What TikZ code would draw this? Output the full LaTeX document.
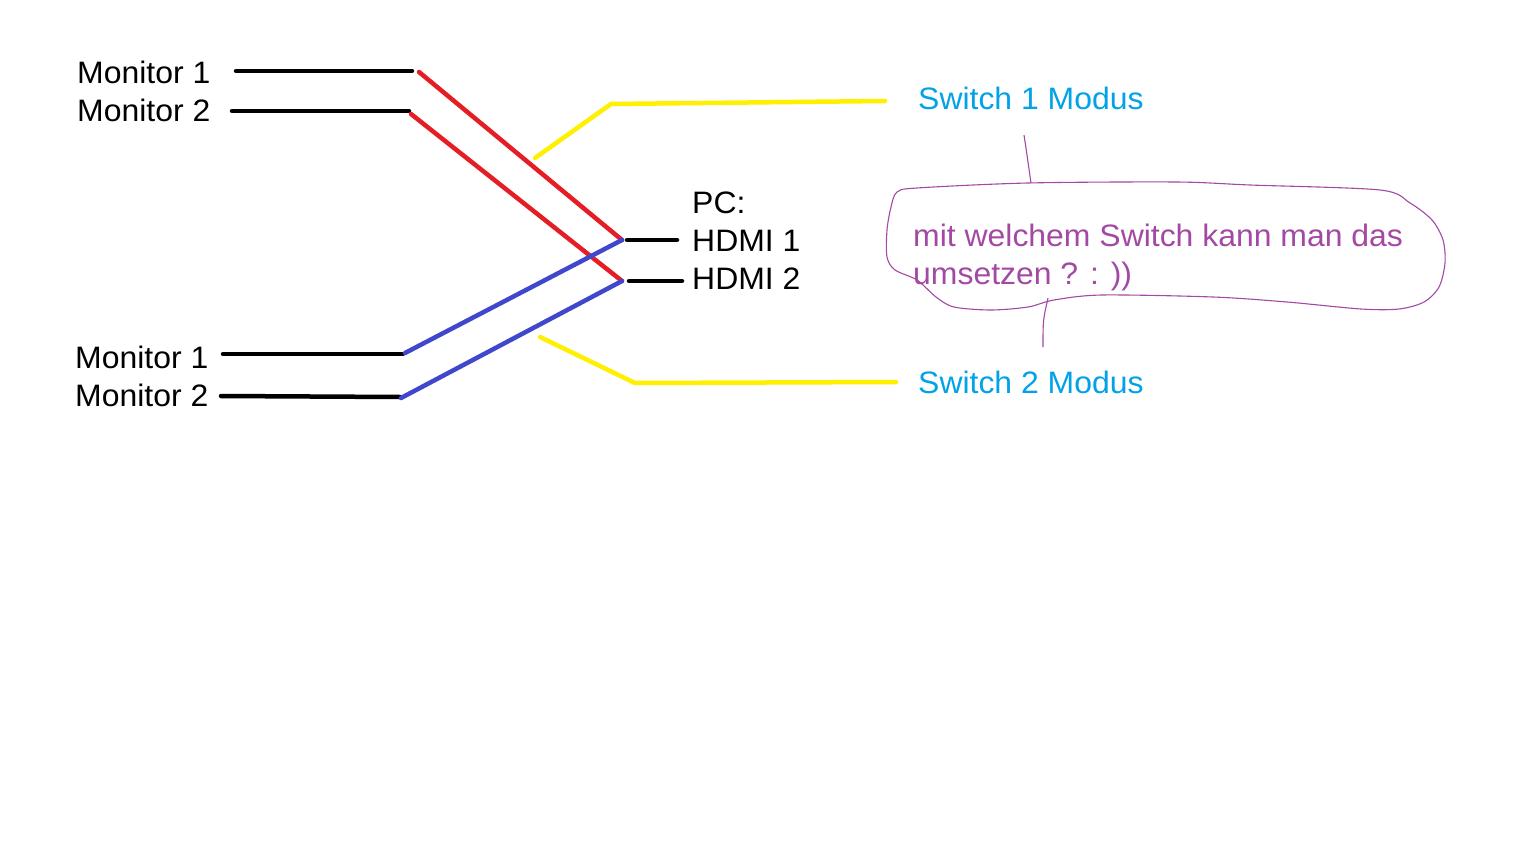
\documentclass[tikz,border=0pt]{standalone}
\usepackage{fontspec}
\setmainfont{Liberation Sans}[FakeStretch=1.03]
\definecolor{pred}{RGB}{229,30,38}
\definecolor{pblue}{RGB}{63,72,204}
\definecolor{pyellow}{RGB}{255,240,0}
\definecolor{pcyan}{RGB}{0,162,232}
\definecolor{ppurple}{RGB}{163,73,164}
\begin{document}
\begin{tikzpicture}[x=1pt,y=-1pt,
  lbl/.style={anchor=base west, inner sep=0pt, font=\fontsize{31}{37}\selectfont},
  wire/.style={line width=4.5pt, line cap=round},
  blk/.style={wire, black},
  redw/.style={wire, pred},
  bluew/.style={wire, pblue},
  yelw/.style={wire, pyellow},
  cloudline/.style={ppurple, line width=1.1pt}]
\fill[white] (0,0) rectangle (1536,864);
\useasboundingbox (0,0) rectangle (1536,864);

% labels
\node[lbl] (m1a) at (77,84) {Monitor 1};
\node[lbl] (m2a) at (77,122) {Monitor 2};
\node[lbl] (m1b) at (75,368) {Monitor 1};
\node[lbl] (m2b) at (75,406) {Monitor 2};
\node[lbl] (pc) at (692,213) {PC:};
\node[lbl] (h1) at (692,251) {HDMI 1};
\node[lbl] (h2) at (692,289) {HDMI 2};
\node[lbl, text=pcyan] (s1) at (918,110) {Switch 1 Modus};
\node[lbl, text=pcyan] (s2) at (918,393) {Switch 2 Modus};
\node[lbl, text=ppurple] (q1) at (913,246) {mit welchem Switch kann man das};
\node[lbl, text=ppurple] (q2) at (913,284) {umsetzen ? : ))};

% wire end points
\coordinate (a1s) at (236,71);  \coordinate (a1e) at (412,71);
\coordinate (a2s) at (232,111); \coordinate (a2e) at (409,111);
\coordinate (b1s) at (223,354); \coordinate (b1e) at (403,354);
\coordinate (b2s) at (221,396); \coordinate (b2e) at (400,397);
\coordinate (h1s) at (627,240); \coordinate (h1e) at (677,240);
\coordinate (h2s) at (629,281); \coordinate (h2e) at (682,281);
\coordinate (p1) at (622,240);
\coordinate (p2) at (622,281);

% black stubs
\draw[blk] (a1s) -- (a1e);
\draw[blk] (a2s) -- (a2e);
\draw[blk] (b1s) -- (b1e);
\draw[blk] (b2s) -- (b2e);
\draw[blk] (h1s) -- (h1e);
\draw[blk] (h2s) -- (h2e);

% red (switch 1) and blue (switch 2)
\draw[redw] (419,72) -- (p1);
\draw[redw] (411,114) -- (p2);
\draw[bluew] (405,353) -- (p1);
\draw[bluew] (401,398) -- (p2);

% yellow pointers
\coordinate (y1a) at (535,158); \coordinate (y1b) at (611,104); \coordinate (y1c) at (885,101);
\coordinate (y2a) at (540,337); \coordinate (y2b) at (635,383); \coordinate (y2c) at (896,382);
\draw[yelw, line join=round] (y1a) -- (y1b) -- (y1c);
\draw[yelw, line join=round] (y2a) -- (y2b) -- (y2c);

% cloud
\draw[cloudline] plot[smooth cycle, tension=0.5] coordinates {
 (897,192) (917,188) (1028,183) (1176,182) (1250,185) (1380,190) (1410,203)
 (1432,220) (1443,240) (1445,263) (1439,287) (1424,302) (1399,309) (1361,309)
 (1287,302) (1213,297) (1102,295) (1054,300) (1028,307) (991,310) (954,307)
 (936,297) (917,280) (895,270) (887,257) (887,230) (891,207)};
\draw[cloudline] (1024,135) .. controls (1027,155) .. (1031,183);
\draw[cloudline] (1048,298) .. controls (1043,320) .. (1043,347);
\end{tikzpicture}
\end{document}
